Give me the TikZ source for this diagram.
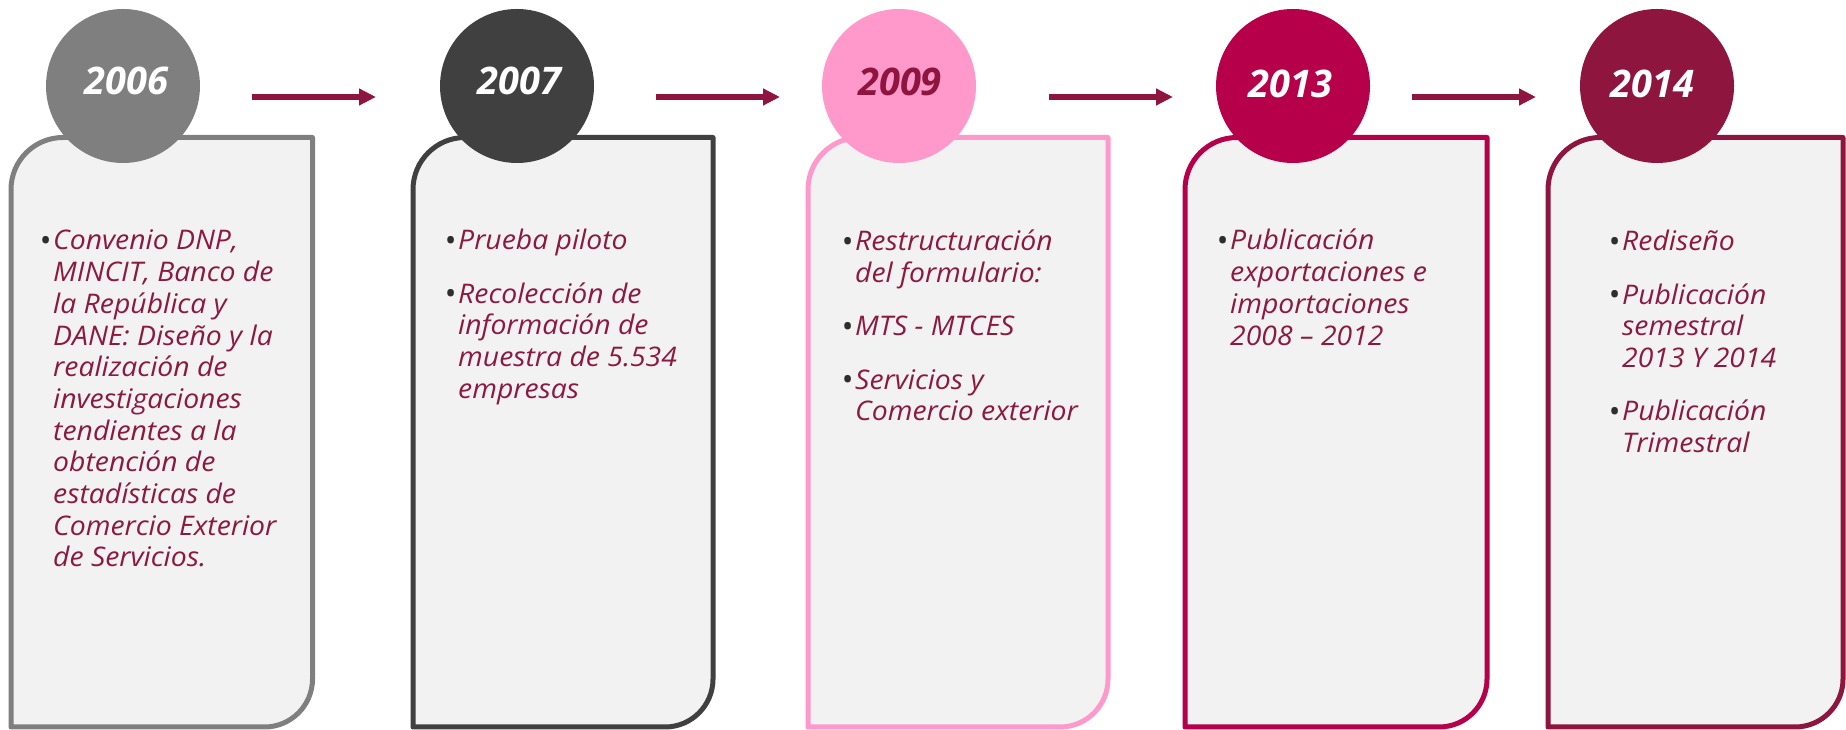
\documentclass[tikz,border=0pt]{standalone}
\usepackage{fontspec}
\setmainfont{Open Sans}[ItalicFeatures={FakeStretch=1.05}]
\usetikzlibrary{arrows.meta}
\definecolor{cgray}{HTML}{7F7F7F}
\definecolor{cdark}{HTML}{404040}
\definecolor{cpink}{HTML}{FF99CC}
\definecolor{ccrim}{HTML}{B7004A}
\definecolor{cmaroon}{HTML}{8E163E}
\definecolor{txtc}{HTML}{8B1A40}
\definecolor{bulc}{HTML}{2E2E2E}
\definecolor{boxfill}{HTML}{F2F2F2}
\newcommand\bul{\noindent\llap{\makebox[15pt][c]{\raisebox{-1.5pt}{\fontsize{31}{31}\selectfont\upshape\color{bulc}•}}}}
\newcommand\nxt{\par\vspace{21.5pt}\bul}
\newcommand\tlbox[3]{%
  \draw[boxbase, draw=#1] (#2,3) -- (#2,540.5) arc[start angle=180,end angle=90,radius=52]
    -- (#3,592.5) -- (#3,51) arc[start angle=0,end angle=-90,radius=48] -- cycle;}
\tikzset{
  boxbase/.style={line width=5pt, fill=boxfill, line join=round},
  yearcirc/.style={circle, inner sep=0pt, minimum size=154pt},
  yeartxt/.style={anchor=base, inner sep=0pt, font=\fontsize{38}{40}\selectfont\bfseries\itshape},
  bodytxt/.style={anchor=base west, inner sep=0pt, text=txtc, font=\fontsize{27}{31.7}\selectfont\itshape},
  arr/.style={draw=cmaroon, line width=5.5pt, -{Triangle[length=17pt,width=16pt]}}
}
\newcommand\body[1]{\parbox[t]{320pt}{#1}}
\begin{document}
\begin{tikzpicture}[x=1pt,y=1pt]
\useasboundingbox (0,0) rectangle (1846,730);
% boxes
\tlbox{cgray}{11}{312.5}
\tlbox{cdark}{413}{713}
\tlbox{cpink}{808}{1108}
\tlbox{ccrim}{1185}{1487}
\tlbox{cmaroon}{1548}{1843}
% circles
\node[yearcirc, fill=cgray]   (c1) at (123,644) {};
\node[yearcirc, fill=cdark]   (c2) at (517,644) {};
\node[yearcirc, fill=cpink]   (c3) at (899,644) {};
\node[yearcirc, fill=ccrim]   (c4) at (1293,644) {};
\node[yearcirc, fill=cmaroon] (c5) at (1657,644) {};
% years
\node[yeartxt, text=white]   (y1) at (126.5,635) {2006};
\node[yeartxt, text=white]   (y2) at (519.5,635) {2007};
\node[yeartxt, text=cmaroon] (y3) at (900,634) {2009};
\node[yeartxt, text=white]   (y4) at (1290.5,632) {2013};
\node[yeartxt, text=white]   (y5) at (1652.5,632) {2014};
% arrows
\coordinate (a1s) at (252,633); \coordinate (a1e) at (376,633);
\coordinate (a2s) at (656,633); \coordinate (a2e) at (780,633);
\coordinate (a3s) at (1049,633); \coordinate (a3e) at (1173,633);
\coordinate (a4s) at (1412,633); \coordinate (a4e) at (1536,633);
\draw[arr] (a1s) -- (a1e);
\draw[arr] (a2s) -- (a2e);
\draw[arr] (a3s) -- (a3e);
\draw[arr] (a4s) -- (a4e);
% texts
\node[bodytxt] (t1) at (53,480) {\body{\bul Convenio DNP,\\MINCIT, Banco de\\la República y\\DANE: Diseño y la\\realización de\\investigaciones\\tendientes a la\\obtención de\\estadísticas de\\Comercio Exterior\\de Servicios.}};
\node[bodytxt] (t2) at (458,480) {\body{\bul Prueba piloto\nxt Recolección de\\información de\\muestra de 5.534\\empresas}};
\node[bodytxt] (t3) at (855,479) {\body{\bul Restructuración\\del formulario:\nxt MTS - MTCES\nxt Servicios y\\Comercio exterior}};
\node[bodytxt] (t4) at (1230,480) {\body{\bul Publicación\\exportaciones e\\importaciones\\2008 – 2012}};
\node[bodytxt] (t5) at (1622,479) {\body{\bul Rediseño\nxt Publicación\\semestral\\2013 Y 2014\nxt Publicación\\Trimestral}};
\end{tikzpicture}
\end{document}
